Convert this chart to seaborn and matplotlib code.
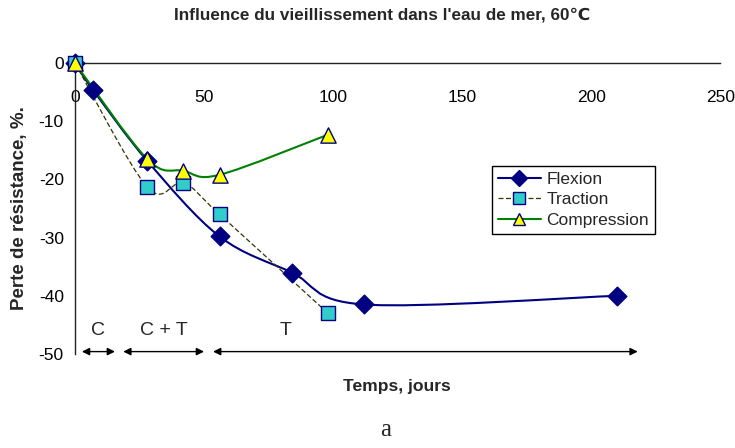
import numpy as np
import pandas as pd
import matplotlib
matplotlib.use("Agg")
import matplotlib.pyplot as plt
import seaborn as sns
from matplotlib.path import Path
from matplotlib.patches import PathPatch
from matplotlib.lines import Line2D

# data
flexion_days = [0, 7, 28, 56, 84, 112, 210]
flexion_loss = [0, -4.6, -16.8, -29.8, -36.0, -41.5, -40.0]

traction_days = [0, 28, 42, 56, 98]
traction_loss = [0, -21.3, -20.6, -26.0, -43.0]

compression_days = [0, 28, 42, 56, 98]
compression_loss = [0, -16.5, -18.5, -19.2, -12.3]

# degradation regimes along the time axis
regime_labels = ["C", "C + T", "T"]
regime_start = [2.7, 18.7, 53.5]
regime_end = [15.5, 50.0, 218.0]

SERIES = [
    # name, days, values, line color, line style, marker, face, size
    ("Flexion", flexion_days, flexion_loss, "#000080", "-", "D", "#000080", 9.5),
    ("Traction", traction_days, traction_loss, "#333300", (0, (4, 2)), "s", "#33CCCC", 10),
    ("Compression", compression_days, compression_loss, "#008000", "-", "^", "#FFFF00", 11),
]


def smooth_path(x, y):
    # excel-style smoothed line: catmull-rom segments as cubic beziers
    pts = np.column_stack([x, y]).astype(float)
    n = len(pts)
    verts = [pts[0]]
    codes = [Path.MOVETO]
    for i in range(n - 1):
        p0 = pts[max(i - 1, 0)]
        p1 = pts[i]
        p2 = pts[i + 1]
        p3 = pts[min(i + 2, n - 1)]
        verts += [p1 + (p2 - p0) / 6, p2 - (p3 - p1) / 6, p2]
        codes += [Path.CURVE4] * 3
    return Path(verts, codes)


sns.set_style("white")
plt.rcParams["font.family"] = ["Liberation Sans", "DejaVu Sans"]
plt.rcParams["axes.unicode_minus"] = False

fig = plt.figure(figsize=(7.35, 4.48), dpi=100)
ax = fig.add_axes([0.102, 0.21, 0.878, 0.649])

handles = []
for name, days, vals, col, ls, mk, face, ms in SERIES:
    df = pd.DataFrame({"jours": days, "perte": vals})
    lw = 0.9 if name == "Traction" else 1.5
    ax.add_patch(PathPatch(smooth_path(days, vals), facecolor="none", edgecolor=col,
                           lw=lw, linestyle=ls, clip_on=False, zorder=2))
    sns.scatterplot(data=df, x="jours", y="perte", marker=mk, s=ms ** 2, color=face,
                    edgecolor="#000080", linewidth=1.0, clip_on=False, zorder=3, ax=ax)
    handles.append(Line2D([], [], color=col, lw=lw, linestyle=ls, marker=mk,
                          markersize=ms * 0.85, markerfacecolor=face,
                          markeredgecolor="#000080", label=name))

ax.set_xlim(0, 250)
ax.set_ylim(-50, 0)
ax.set_xticks(np.arange(0, 251, 50))
ax.set_yticks(np.arange(-50, 1, 10))
ax.spines["bottom"].set_position(("data", 0))
ax.spines["top"].set_visible(False)
ax.spines["right"].set_visible(False)
for s in ["bottom", "left"]:
    ax.spines[s].set_color("#222222")
    ax.spines[s].set_linewidth(1.0)
ax.tick_params(axis="x", direction="out", length=5, width=1, pad=14, labelsize=12.5, colors="#222222", labelcolor="black")
ax.tick_params(axis="y", direction="out", length=5, width=1, pad=3, labelsize=12.5, colors="#222222", labelcolor="black")
ax.set_xlabel("")
ax.set_ylabel("Perte de résistance, %.", fontsize=13.5, fontweight="bold", labelpad=8)

for lab, a, b in zip(regime_labels, regime_start, regime_end):
    ax.annotate("", xy=(b, -49.6), xytext=(a, -49.6),
                arrowprops=dict(arrowstyle="<|-|>", color="black", lw=1, mutation_scale=11,
                                shrinkA=0, shrinkB=0), annotation_clip=False)
    ax.text((a + b) / 2 if lab != "T" else 81.5, -46.0, lab, fontsize=14,
            ha="center", va="center")

ax.legend(handles=handles, loc="upper left", bbox_to_anchor=(0.669, 0.63),
          bbox_transform=fig.transFigure, fontsize=12.5, frameon=True, fancybox=False,
          edgecolor="black", framealpha=1, handlelength=2.5, borderpad=0.35,
          labelspacing=0.3, handletextpad=0.3, borderaxespad=0)

fig.text(0.52, 0.966, "Influence du vieillissement dans l'eau de mer, 60\u2103",
         fontsize=12.3, fontweight="bold", ha="center", va="center")
fig.text(0.54, 0.138, "Temps, jours", fontsize=12.6, fontweight="bold", ha="center", va="center")
fig.text(0.524, 0.04, "a", fontsize=18, family=["Liberation Serif", "DejaVu Serif"],
         ha="center", va="center")

fig.savefig("out.png", dpi=100)
